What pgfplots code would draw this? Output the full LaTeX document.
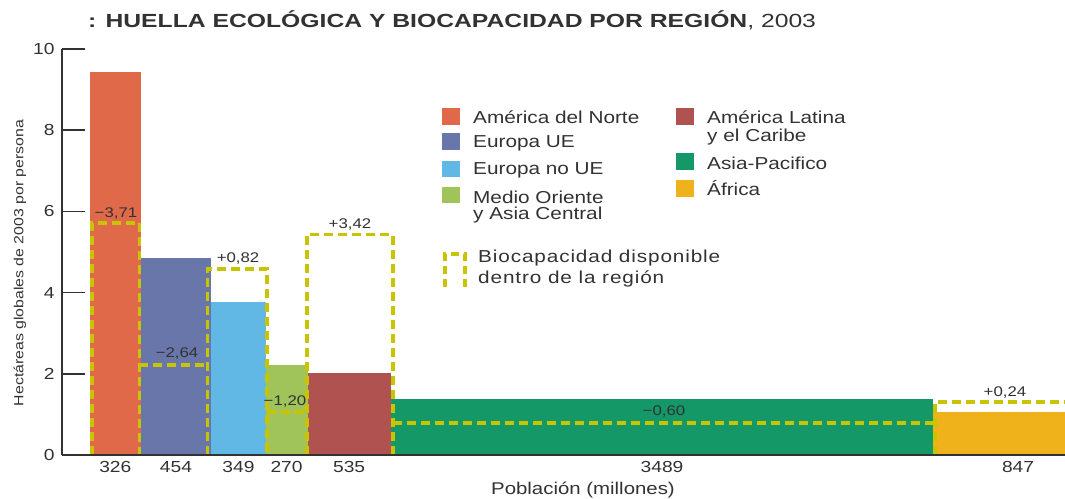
\documentclass[border=0pt]{standalone}
\usepackage{fontspec}
\setmainfont{Liberation Sans}[FakeStretch=1.2]
\newfontfamily\titlefont{Liberation Sans}[FakeStretch=1.3]
\usepackage{pgfplots}
\pgfplotsset{compat=1.18}
\definecolor{cNA}{RGB}{224,105,74}
\definecolor{cEU}{RGB}{104,118,170}
\definecolor{cNEU}{RGB}{98,184,228}
\definecolor{cME}{RGB}{160,196,90}
\definecolor{cLA}{RGB}{176,82,80}
\definecolor{cAP}{RGB}{20,152,104}
\definecolor{cAF}{RGB}{240,178,26}
\definecolor{cBio}{RGB}{200,196,0}
\definecolor{axgray}{RGB}{50,50,50}
\begin{document}
\begin{tikzpicture}[x=1pt,y=1pt]
\useasboundingbox (0,0) rectangle (1065,498);
\begin{axis}[
  at={(62pt,43pt)}, anchor=south west,
  scale only axis, width=1003pt, height=406pt,
  xmin=-180, xmax=6270, ymin=0, ymax=10,
  axis x line*=bottom, axis y line*=left,
  x axis line style={axgray, line width=2.5pt},
  y axis line style={axgray, line width=1.6pt},
  axis on top,
  ytick={0,2,...,10},
  tick align=inside, major tick length=23pt,
  ytick style={axgray, line width=1.6pt},
  xtick={163,553,954.5,1264,1666.5,3678.5,5968},
  xticklabels={326,454,349,270,535,3489,847},
  xtick style={draw=none},
  tick label style={font=\fontsize{16}{19}\selectfont, text=axgray},
  yticklabel style={xshift=-4pt},
  xticklabel style={yshift=-3pt},
  /pgf/number format/assume math mode=true,
  clip=false,
]
% Huella ecologica (ancho = poblacion)
\addplot[fill=cNA, draw=none] coordinates {(0,9.43) (326,9.43)} \closedcycle;
\addplot[fill=cEU, draw=none] coordinates {(326,4.85) (780,4.85)} \closedcycle;
\addplot[fill=cNEU, draw=none] coordinates {(780,3.77) (1129,3.77)} \closedcycle;
\addplot[fill=cME, draw=none] coordinates {(1129,2.22) (1399,2.22)} \closedcycle;
\addplot[fill=cLA, draw=none] coordinates {(1399,2.01) (1934,2.01)} \closedcycle;
\addplot[fill=cAP, draw=none] coordinates {(1934,1.38) (5423,1.38)} \closedcycle;
\addplot[fill=cAF, draw=none] coordinates {(5423,1.07) (6270,1.07)} \closedcycle;
% Biocapacidad
\pgfplotsset{bio/.style={cBio, line width=3.8pt, dash pattern=on 9pt off 5pt}}
\addplot[bio] coordinates {(13,0) (13,5.72) (318,5.72) (318,0)};
\addplot[bio] coordinates {(318,2.21) (756,2.21)};
\addplot[bio] coordinates {(756,0) (756,4.59) (1138,4.59) (1138,0)};
\addplot[bio] coordinates {(1138,1.06) (1395,1.06)};
\addplot[bio] coordinates {(1395,0) (1395,5.43) (1949,5.43) (1949,0)};
\addplot[bio] coordinates {(1949,0.78) (5434,0.78)};
\addplot[bio] coordinates {(5434,0) (5434,1.31) (6270,1.31)};
% etiquetas
\begin{scope}[every node/.style={font=\fontsize{14}{16}\selectfont, text=axgray, inner sep=0pt}]
\node at (axis cs:167,5.96) {−3,71};
\node at (axis cs:560,2.49) {−2,64};
\node at (axis cs:952,4.85) {+0,82};
\node at (axis cs:1254,1.31) {−1,20};
\node at (axis cs:1672,5.67) {+3,42};
\node at (axis cs:3691,1.08) {−0,60};
\node at (axis cs:5884,1.53) {+0,24};
\end{scope}
\end{axis}
% titulo
\node[anchor=west, inner sep=0pt, text=axgray] at (88,478)
  {\titlefont\fontsize{19}{22}\selectfont\textbf{: HUELLA ECOLÓGICA Y BIOCAPACIDAD POR REGIÓN}, 2003};
\node[rotate=90, inner sep=0pt, text=axgray] at (20,235)
  {\fontsize{13.2}{16}\selectfont Hectáreas globales de 2003 por persona};
\node[inner sep=0pt, text=axgray] at (583,8)
  {\fontsize{17}{20}\selectfont Población (millones)};
% leyenda
\fill[cNA] (442,373) rectangle (460,390);
\fill[cEU] (442,348) rectangle (460,365);
\fill[cNEU] (442,321) rectangle (460,337);
\fill[cME] (442,295) rectangle (460,311);
\fill[cLA] (676,373) rectangle (694,390);
\fill[cAP] (676,328) rectangle (694,345);
\fill[cAF] (676,301) rectangle (694,318);
\draw[cBio, line width=3.8pt, dash pattern=on 8pt off 5pt] (445,211) -- (445,244) -- (465,244) -- (465,211);
\begin{scope}[every node/.style={anchor=west, inner sep=0pt, text=axgray, font=\fontsize{17.3}{20}\selectfont}]
\node at (473,381) {América del Norte};
\node at (473,355) {Europa UE};
\node at (473,328) {Europa no UE};
\node at (473,301) {Medio Oriente};
\node at (473,283) {y Asia Central};
\node at (707,381) {América Latina};
\node at (707,361) {y el Caribe};
\node at (707,335) {Asia-Pacifico};
\node at (707,310) {África};
\node at (478,240) {\addfontfeature{LetterSpace=5}Biocapacidad disponible};
\node at (478,219) {\addfontfeature{LetterSpace=5}dentro de la región};
\end{scope}
\end{tikzpicture}
\end{document}
